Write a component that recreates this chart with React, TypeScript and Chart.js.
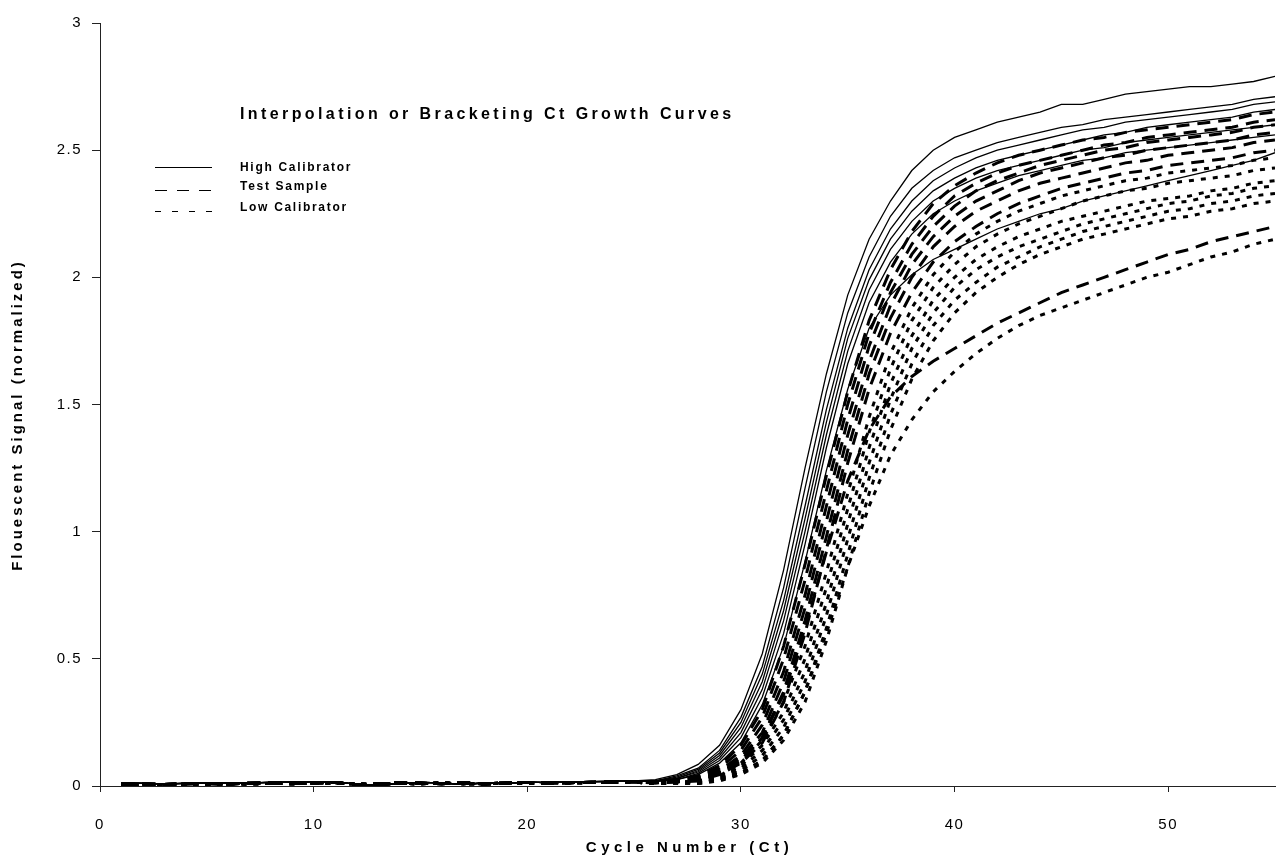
import React, { useEffect, useRef } from 'react';
import { Chart, registerables } from 'chart.js';

Chart.register(...registerables);

// ---- data ----
const CYCLES = [1, 2, 3, 4, 5, 6, 7, 8, 9, 10, 11, 12, 13, 14, 15, 16, 17, 18, 19, 20, 21, 22, 23, 24, 25,
  26, 27, 28, 29, 30, 31, 32, 33, 34, 35, 36, 37, 38, 39, 40, 41, 42, 43, 44, 45, 46, 47, 48, 49, 50,
  51, 52, 53, 54, 55];

const X_TICKS = [0, 10, 20, 30, 40, 50];
const Y_TICKS = [0, 0.5, 1, 1.5, 2, 2.5, 3];
const Y_LABELS = ['0', '0.5', '1', '1.5', '2', '2.5', '3'];

// baselines, cycles 1-25
const BASE_H = [0.012, 0.010, 0.008, 0.010, 0.012, 0.013, 0.012, 0.014, 0.015, 0.016, 0.017, 0.006, 0.002, 0.010, 0.014, 0.012, 0.006, 0.012, 0.010, 0.015, 0.013, 0.016, 0.017, 0.018, 0.020];
const BASE_T = [0.006, 0.008, 0.006, 0.009, 0.010, 0.008, 0.011, 0.012, 0.011, 0.012, 0.014, 0.004, 0.008, 0.013, 0.011, 0.009, 0.013, 0.008, 0.012, 0.014, 0.012, 0.013, 0.015, 0.016, 0.017];
const BASE_L = [0.004, 0.006, 0.005, 0.007, 0.006, 0.009, 0.008, 0.010, 0.009, 0.011, 0.012, 0.008, 0.006, 0.010, 0.009, 0.012, 0.010, 0.007, 0.013, 0.011, 0.013, 0.012, 0.014, 0.014, 0.015];

// High calibrator, cycles 26-55
const H1 = [0.025, 0.045, 0.085, 0.16, 0.3, 0.52, 0.85, 1.25, 1.62, 1.93, 2.15, 2.3, 2.42, 2.5, 2.55, 2.58, 2.61, 2.63, 2.65, 2.68, 2.68, 2.7, 2.72, 2.73, 2.74, 2.75, 2.75, 2.76, 2.77, 2.79];
const H2 = [0.02, 0.04, 0.07, 0.14, 0.27, 0.47, 0.78, 1.17, 1.55, 1.86, 2.08, 2.24, 2.35, 2.42, 2.47, 2.5, 2.53, 2.55, 2.57, 2.59, 2.6, 2.62, 2.63, 2.64, 2.65, 2.66, 2.67, 2.68, 2.7, 2.71];
const H3 = [0.02, 0.035, 0.065, 0.13, 0.25, 0.44, 0.73, 1.1, 1.48, 1.8, 2.03, 2.19, 2.3, 2.38, 2.43, 2.47, 2.5, 2.52, 2.54, 2.56, 2.58, 2.59, 2.61, 2.62, 2.63, 2.64, 2.65, 2.66, 2.68, 2.69];
const H4 = [0.02, 0.03, 0.06, 0.12, 0.23, 0.41, 0.69, 1.05, 1.43, 1.76, 1.99, 2.15, 2.26, 2.34, 2.39, 2.43, 2.46, 2.48, 2.5, 2.52, 2.54, 2.56, 2.57, 2.59, 2.6, 2.61, 2.62, 2.63, 2.65, 2.66];
const H5 = [0.018, 0.03, 0.055, 0.11, 0.21, 0.38, 0.65, 1.0, 1.38, 1.71, 1.95, 2.11, 2.22, 2.3, 2.35, 2.39, 2.42, 2.44, 2.46, 2.48, 2.5, 2.51, 2.53, 2.54, 2.55, 2.56, 2.57, 2.58, 2.59, 2.6];
const H6 = [0.018, 0.025, 0.05, 0.1, 0.19, 0.35, 0.6, 0.95, 1.33, 1.66, 1.9, 2.06, 2.17, 2.25, 2.3, 2.34, 2.37, 2.4, 2.42, 2.44, 2.46, 2.47, 2.49, 2.5, 2.51, 2.52, 2.53, 2.54, 2.55, 2.56];
const H7 = [0.018, 0.025, 0.045, 0.09, 0.17, 0.32, 0.55, 0.88, 1.24, 1.56, 1.8, 1.93, 2.01, 2.07, 2.11, 2.15, 2.19, 2.22, 2.25, 2.27, 2.3, 2.32, 2.34, 2.36, 2.38, 2.4, 2.42, 2.44, 2.46, 2.49];

// Test sample, cycles 26-55
const T1 = [0.015, 0.025, 0.04, 0.08, 0.16, 0.3, 0.55, 0.87, 1.22, 1.55, 1.83, 2.03, 2.18, 2.29, 2.36, 2.41, 2.45, 2.48, 2.5, 2.52, 2.54, 2.55, 2.57, 2.58, 2.59, 2.6, 2.61, 2.62, 2.64, 2.65];
const T2 = [0.015, 0.022, 0.035, 0.07, 0.14, 0.27, 0.5, 0.81, 1.16, 1.5, 1.78, 1.98, 2.13, 2.24, 2.32, 2.37, 2.41, 2.44, 2.46, 2.48, 2.5, 2.52, 2.53, 2.55, 2.56, 2.57, 2.58, 2.59, 2.61, 2.62];
const T3 = [0.014, 0.02, 0.03, 0.06, 0.12, 0.24, 0.45, 0.75, 1.1, 1.44, 1.73, 1.94, 2.09, 2.2, 2.28, 2.34, 2.38, 2.41, 2.44, 2.46, 2.48, 2.5, 2.51, 2.53, 2.54, 2.55, 2.56, 2.57, 2.59, 2.6];
const T4 = [0.014, 0.02, 0.03, 0.055, 0.11, 0.21, 0.41, 0.7, 1.04, 1.38, 1.67, 1.89, 2.05, 2.16, 2.24, 2.3, 2.34, 2.38, 2.41, 2.43, 2.45, 2.47, 2.48, 2.5, 2.51, 2.52, 2.53, 2.54, 2.56, 2.57];
const T5 = [0.013, 0.018, 0.025, 0.05, 0.1, 0.19, 0.37, 0.65, 0.98, 1.32, 1.62, 1.84, 2.0, 2.12, 2.2, 2.26, 2.3, 2.34, 2.37, 2.39, 2.41, 2.43, 2.45, 2.46, 2.48, 2.49, 2.5, 2.51, 2.53, 2.54];
const T6 = [0.012, 0.016, 0.02, 0.045, 0.09, 0.17, 0.33, 0.6, 0.93, 1.27, 1.56, 1.78, 1.94, 2.06, 2.14, 2.2, 2.25, 2.29, 2.32, 2.35, 2.37, 2.39, 2.41, 2.42, 2.44, 2.45, 2.46, 2.47, 2.49, 2.5];
const T7 = [0.013, 0.018, 0.025, 0.05, 0.1, 0.19, 0.36, 0.62, 0.92, 1.2, 1.4, 1.53, 1.61, 1.67, 1.72, 1.77, 1.82, 1.86, 1.9, 1.94, 1.97, 2.0, 2.03, 2.06, 2.09, 2.11, 2.14, 2.16, 2.18, 2.2];

// Low calibrator, cycles 26-55
const L1 = [0.012, 0.015, 0.02, 0.04, 0.09, 0.18, 0.33, 0.55, 0.84, 1.15, 1.45, 1.7, 1.88, 2.01, 2.1, 2.17, 2.22, 2.26, 2.29, 2.32, 2.34, 2.36, 2.38, 2.39, 2.41, 2.42, 2.43, 2.44, 2.46, 2.47];
const L2 = [0.011, 0.014, 0.02, 0.035, 0.08, 0.16, 0.29, 0.5, 0.78, 1.09, 1.39, 1.64, 1.83, 1.96, 2.05, 2.12, 2.17, 2.21, 2.24, 2.27, 2.3, 2.32, 2.34, 2.35, 2.37, 2.38, 2.39, 2.4, 2.42, 2.43];
const L3 = [0.011, 0.013, 0.015, 0.03, 0.07, 0.14, 0.26, 0.45, 0.72, 1.03, 1.33, 1.58, 1.77, 1.91, 2.0, 2.07, 2.12, 2.16, 2.19, 2.22, 2.24, 2.26, 2.28, 2.3, 2.31, 2.32, 2.34, 2.35, 2.37, 2.38];
const L4 = [0.01, 0.013, 0.015, 0.03, 0.06, 0.12, 0.23, 0.41, 0.67, 0.97, 1.27, 1.52, 1.72, 1.86, 1.96, 2.03, 2.08, 2.12, 2.15, 2.18, 2.21, 2.23, 2.25, 2.27, 2.29, 2.3, 2.32, 2.33, 2.35, 2.36];
const L5 = [0.01, 0.012, 0.01, 0.025, 0.05, 0.1, 0.2, 0.37, 0.62, 0.91, 1.21, 1.46, 1.66, 1.81, 1.91, 1.98, 2.04, 2.08, 2.12, 2.15, 2.18, 2.2, 2.22, 2.24, 2.26, 2.27, 2.29, 2.3, 2.32, 2.33];
const L6 = [0.01, 0.011, 0.01, 0.02, 0.045, 0.09, 0.18, 0.33, 0.57, 0.86, 1.15, 1.4, 1.6, 1.75, 1.86, 1.94, 2.0, 2.05, 2.09, 2.12, 2.15, 2.17, 2.19, 2.21, 2.23, 2.24, 2.26, 2.27, 2.29, 2.3];
const L7 = [0.01, 0.012, 0.01, 0.025, 0.05, 0.1, 0.2, 0.37, 0.6, 0.86, 1.1, 1.3, 1.44, 1.55, 1.63, 1.7, 1.76, 1.81, 1.85, 1.88, 1.91, 1.94, 1.97, 2.0, 2.02, 2.05, 2.08, 2.1, 2.13, 2.15];

const HIGH = [H1, H2, H3, H4, H5, H6, H7];
const TEST = [T1, T2, T3, T4, T5, T6, T7];
const LOW = [L1, L2, L3, L4, L5, L6, L7];

const TITLE = 'Interpolation or Bracketing Ct Growth Curves';
const LEGEND_LABELS = ['High Calibrator', 'Test Sample', 'Low Calibrator'];
const X_TITLE = 'Cycle Number (Ct)';
const Y_TITLE = 'Flouescent Signal (normalized)';

const FONT = '"Liberation Sans", Arial, sans-serif';

function toPoints(base: number[], tail: number[]) {
  const ys = [...base, ...tail];
  return CYCLES.map((c, i) => ({ x: c, y: ys[i] }));
}

const overlayPlugin = {
  id: 'overlay',
  beforeDraw(chart: any) {
    const ctx = chart.ctx;
    ctx.fillStyle = '#fff';
    ctx.fillRect(0, 0, chart.width, chart.height);
    (ctx as any).letterSpacing = '1.5px';
  },
  afterDraw(chart: any) {
    const ctx = chart.ctx as CanvasRenderingContext2D;
    ctx.save();
    ctx.fillStyle = '#000';
    ctx.strokeStyle = '#000';
    ctx.textAlign = 'left';
    ctx.textBaseline = 'alphabetic';

    // legend title
    ctx.font = `bold 16px ${FONT}`;
    (ctx as any).letterSpacing = '3.4px';
    ctx.fillText(TITLE, 240, 119);

    // legend labels
    ctx.font = `bold 12px ${FONT}`;
    (ctx as any).letterSpacing = '1.7px';
    const ys = [171, 190, 211];
    LEGEND_LABELS.forEach((t, i) => ctx.fillText(t, 240, ys[i]));

    // legend line samples
    const dashes = [[], [12, 10], [6, 11]];
    const ly = [167.5, 190.5, 211.5];
    ctx.lineWidth = 1.2;
    dashes.forEach((d, i) => {
      ctx.setLineDash(d);
      ctx.beginPath();
      ctx.moveTo(155, ly[i]);
      ctx.lineTo(212, ly[i]);
      ctx.stroke();
    });
    ctx.setLineDash([]);

    // x axis title
    ctx.font = `bold 15px ${FONT}`;
    (ctx as any).letterSpacing = '4.5px';
    ctx.textAlign = 'center';
    ctx.textBaseline = 'middle';
    const area = chart.chartArea;
    ctx.fillText(X_TITLE, (area.left + area.right) / 2 + 2, 848);

    // y axis title
    ctx.font = `bold 15px ${FONT}`;
    (ctx as any).letterSpacing = '3px';
    ctx.translate(18, 415);
    ctx.rotate(-Math.PI / 2);
    ctx.fillText(Y_TITLE, 0, 0);
    ctx.restore();
    (ctx as any).letterSpacing = '0px';
  },
};

export default function App() {
  const ref = useRef<HTMLCanvasElement>(null);

  useEffect(() => {
    if (!ref.current) return;
    const datasets: any[] = [];
    LOW.forEach((tail, i) => {
      datasets.push({
        label: 'Low Calibrator ' + (i + 1),
        data: toPoints(BASE_L, tail),
        borderColor: '#000',
        borderWidth: 3,
        borderDash: [5, 7],
        borderCapStyle: 'butt',
      });
    });
    TEST.forEach((tail, i) => {
      datasets.push({
        label: 'Test Sample ' + (i + 1),
        data: toPoints(BASE_T, tail),
        borderColor: '#000',
        borderWidth: 3,
        borderDash: [13, 8],
        borderCapStyle: 'butt',
      });
    });
    HIGH.forEach((tail, i) => {
      datasets.push({
        label: 'High Calibrator ' + (i + 1),
        data: toPoints(BASE_H, tail),
        borderColor: '#000',
        borderWidth: 1.3,
      });
    });

    const chart = new Chart(ref.current, {
      type: 'line',
      data: { datasets },
      plugins: [overlayPlugin],
      options: {
        animation: false,
        responsive: false,
        maintainAspectRatio: false,
        devicePixelRatio: 1,
        layout: { padding: { top: 23, right: 3, left: 0, bottom: 0 } },
        elements: {
          point: { radius: 0, hoverRadius: 0 },
          line: { tension: 0, fill: false },
        },
        plugins: {
          legend: { display: false },
          title: { display: false },
          tooltip: { enabled: false },
        },
        scales: {
          x: {
            type: 'linear',
            min: 0,
            max: 55,
            afterBuildTicks: (scale: any) => {
              scale.ticks = X_TICKS.map((v) => ({ value: v }));
            },
            afterFit: (scale: any) => {
              scale.height = 74;
            },
            grid: { drawOnChartArea: false, drawTicks: true, tickLength: 6, color: '#222', lineWidth: 1 },
            border: { display: true, color: '#222', width: 1 },
            ticks: {
              color: '#000',
              font: { family: FONT, size: 15 },
              padding: 24,
              maxRotation: 0,
            },
          },
          y: {
            type: 'linear',
            min: 0,
            max: 3,
            afterBuildTicks: (scale: any) => {
              scale.ticks = Y_TICKS.map((v) => ({ value: v }));
            },
            afterFit: (scale: any) => {
              scale.width = 100;
            },
            grid: { drawOnChartArea: false, drawTicks: true, tickLength: 8, color: '#222', lineWidth: 1 },
            border: { display: true, color: '#222', width: 1 },
            ticks: {
              color: '#000',
              font: { family: FONT, size: 15 },
              padding: 10,
              callback: (_v: any, i: number) => Y_LABELS[i],
            },
          },
        },
      },
    });
    return () => chart.destroy();
  }, []);

  return (
    <div style={{ position: 'absolute', left: 0, top: 0, width: 1278, height: 860, background: '#fff' }}>
      <canvas ref={ref} width={1278} height={860} style={{ display: 'block', width: 1278, height: 860 }} />
    </div>
  );
}
